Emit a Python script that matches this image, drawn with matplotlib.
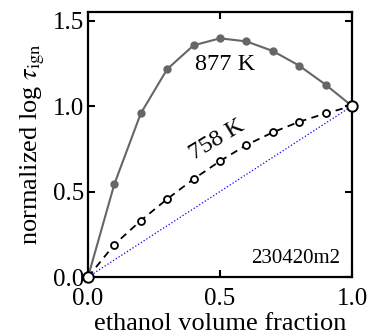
import matplotlib
matplotlib.use("Agg")
import matplotlib.pyplot as plt

# ethanol volume fraction
frac = [0.0, 0.1, 0.2, 0.3, 0.4, 0.5, 0.6, 0.7, 0.8, 0.9, 1.0]
# normalized log tau_ign
t877 = [0.0, 0.544, 0.957, 1.216, 1.355, 1.396, 1.378, 1.322, 1.236, 1.125, 1.0]
t758 = [0.0, 0.19, 0.33, 0.456, 0.573, 0.678, 0.772, 0.846, 0.908, 0.957, 1.0]
linear = [0.0, 1.0]
linear_x = [0.0, 1.0]

plt.rcParams['font.family'] = ['Liberation Serif', 'DejaVu Serif']
plt.rcParams['mathtext.fontset'] = 'stix'

fig = plt.figure(figsize=(3.68, 3.36), dpi=100)
ax = fig.add_axes([88/368, 59/336, 264/368, 265/336])

ax.plot(linear_x, linear, ':', color='blue', lw=0.9, zorder=1)
ax.plot(frac, t877, '-o', color='#666666', lw=1.5, ms=5, zorder=2)
ax.plot(frac, t758, '--o', color='black', lw=1.3, ms=5, mfc='white',
        mew=1.3, dashes=(4, 3), zorder=3)
# end points shared by both series
ax.plot([frac[0], frac[-1]], [t758[0], t758[-1]], 'o', color='black', ms=7.5,
        mfc='white', mew=1.4, zorder=4, clip_on=False)

ax.set_xlim(0, 1.0)
ax.set_ylim(0, 1.55)
ax.set_xticks([0, 0.5, 1.0])
ax.set_yticks([0, 0.5, 1.0, 1.5])
ax.xaxis.set_major_formatter(matplotlib.ticker.FormatStrFormatter('%.1f'))
ax.yaxis.set_major_formatter(matplotlib.ticker.FormatStrFormatter('%.1f'))
ax.tick_params(direction='in', top=True, right=True, length=5, width=1.5,
               labelsize=18, pad=3)
ax.tick_params(axis='x', pad=8)
for s in ax.spines.values():
    s.set_linewidth(1.6)

ax.set_xlabel('ethanol volume fraction', fontsize=19, labelpad=2)
ax.set_ylabel(r'normalized log $\tau_{\rm ign}$', fontsize=19, labelpad=4)

ax.text(0.52, 1.245, '877 K', fontsize=17.5, ha='center', va='center')
ax.text(0.49, 0.80, '758 K', fontsize=17.5, ha='center', va='center', rotation=31)
ax.text(0.955, 0.05, '230420m2', fontsize=15, ha='right', va='bottom')

fig.savefig('out.png', dpi=100)
